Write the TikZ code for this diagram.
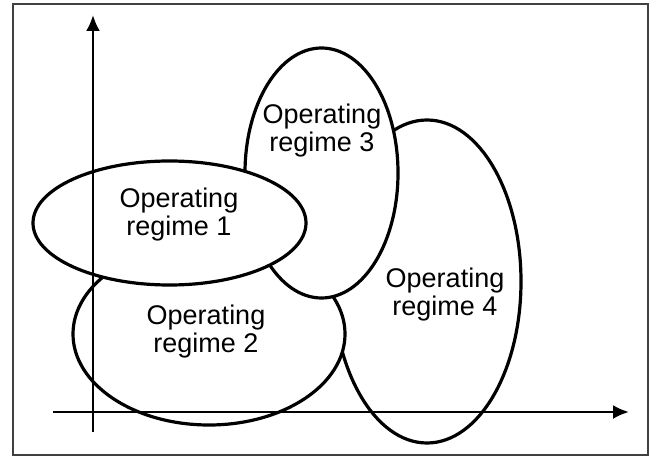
\documentclass[tikz,border=0pt]{standalone}
\usepackage{fontspec}
\setmainfont{Liberation Sans}
\usetikzlibrary{arrows.meta}

\begin{document}
\begin{tikzpicture}[x=1pt,y=-1pt,every node/.style={font=\fontsize{27}{28}\selectfont,align=center,inner sep=0pt},region/.style={draw,fill=white,line width=3.2pt},axis/.style={line width=2.4pt,-{Latex[length=16pt,width=14pt]}}]
\useasboundingbox (0,0) rectangle (656,457);
\draw[line width=1.5pt,black!75] (13,4) rectangle (648,455);
% regions, back to front
\filldraw[region] (427,281.5) ellipse [x radius=94,y radius=161.5];
\filldraw[region] (209,334) ellipse [x radius=136,y radius=91];
\filldraw[region] (321.5,173) ellipse [x radius=76.5,y radius=125];
\filldraw[region] (169.5,223) ellipse [x radius=136.5,y radius=62];
\node (reg1) at (179,215) {Operating\\regime 1};
\node (reg2) at (206,332) {Operating\\regime 2};
\node (reg3) at (322,131) {Operating\\regime 3};
\node (reg4) at (445,295) {Operating\\regime 4};
% axes
\coordinate (ybot) at (93,432);
\coordinate (ytop) at (93,15);
\coordinate (xleft) at (53,412);
\coordinate (xright) at (629,412);
\draw[axis] (ybot)--(ytop);\draw[axis] (xleft)--(xright);
\end{tikzpicture}
\end{document}
